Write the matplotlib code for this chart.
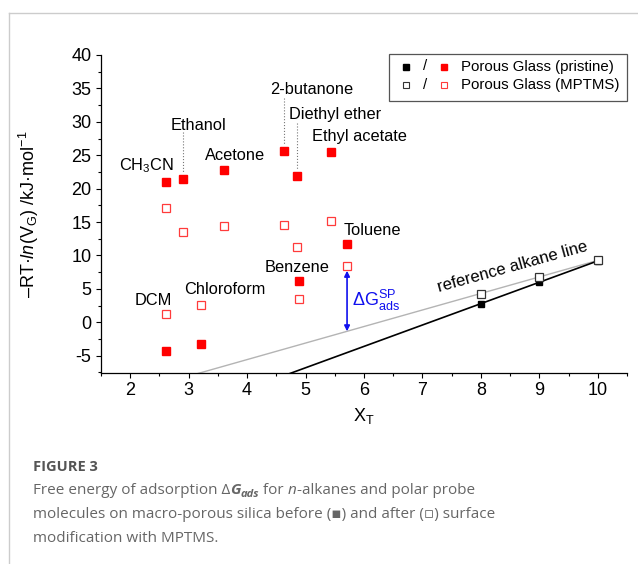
import matplotlib
matplotlib.use("Agg")
import matplotlib.pyplot as plt
import numpy as np
from matplotlib.lines import Line2D
from matplotlib.text import Annotation

plt.rcParams['font.family'] = ['Liberation Sans', 'DejaVu Sans']
plt.rcParams['mathtext.fontset'] = 'custom'
plt.rcParams['mathtext.rm'] = 'Liberation Sans'
plt.rcParams['mathtext.it'] = 'Liberation Sans:italic'
plt.rcParams['mathtext.bf'] = 'Liberation Sans:bold'
plt.rcParams['mathtext.default'] = 'regular'
plt.rcParams['axes.unicode_minus'] = False

# polar probes: topological index X_T and -RT ln(V_G) in kJ/mol
probes = ['CH$_3$CN', 'Ethanol', 'Acetone', '2-butanone', 'Diethyl ether',
          'Ethyl acetate', 'Toluene', 'Benzene', 'DCM', 'Chloroform']
probe_xt = [2.61, 2.91, 3.61, 4.63, 4.85, 5.44, 5.71, 4.88, 2.61, 3.21]
probe_pristine = [21.0, 21.4, 22.75, 25.7, 21.95, 25.55, 11.65, 6.15, -4.25, -3.2]
probe_mptms = [17.1, 13.55, 14.35, 14.5, 11.3, 15.15, 8.4, 3.55, 1.2, 2.65]

# n-alkanes (octane, nonane, decane)
alkane_xt = [8, 9, 10]
alkane_pristine = [2.8, 5.95, 9.2]
alkane_mptms = [4.3, 6.8, 9.25]

W, H = 638, 564
fig = plt.figure(figsize=(W / 100, H / 100), dpi=100)


def fx(x):
    return x / W


def fy(y):
    return 1 - y / H


ax = fig.add_axes([fx(101), fy(373), fx(627) - fx(101), fy(55) - fy(373)])
ax.set_xlim(1.5, 10.5)
ax.set_ylim(-7.6, 40)
ax.spines['top'].set_visible(False)
ax.spines['right'].set_visible(False)
for s in ['left', 'bottom']:
    ax.spines[s].set_linewidth(0.9)
ax.set_xticks(range(2, 11))
ax.set_xticks(np.arange(1.5, 10.6, 0.5), minor=True)
ax.set_yticks(range(-5, 41, 5))
ax.set_yticks(np.arange(-7.5, 40.1, 2.5), minor=True)
ax.tick_params(which='major', length=3.8, width=0.8, labelsize=13, pad=3)
ax.tick_params(which='minor', length=2, width=0.8)

# reference alkane lines (linear fits)
xl = np.linspace(2, 10, 50)
p_pr = np.polyfit(alkane_xt, alkane_pristine, 1)
p_mp = np.polyfit(alkane_xt, alkane_mptms, 1)
ax.plot(xl, np.polyval(p_mp, xl), color='#b4b4b4', lw=1.0, zorder=2)
ax.plot(xl, np.polyval(p_pr, xl), color='black', lw=1.2, zorder=2)

ax.plot(alkane_xt, alkane_pristine, 's', color='black', ms=5, zorder=3)
ax.plot(alkane_xt, alkane_mptms, 's', mfc='white', mec='#333333', mew=0.9, ms=5.2, zorder=4)
ax.plot(probe_xt, probe_pristine, 's', color='#ff0000', ms=5.2, zorder=3)
ax.plot(probe_xt, probe_mptms, 's', mfc='white', mec='#ff3b3b', mew=0.9, ms=5.2, zorder=3)

# probe labels
label_pos = {
    'CH$_3$CN': (2.27, 23.4), 'Ethanol': (3.16, 29.4), 'Acetone': (3.79, 25.0),
    '2-butanone': (5.1, 34.9), 'Diethyl ether': (5.51, 31.1),
    'Ethyl acetate': (5.93, 27.8), 'Toluene': (6.14, 13.7),
    'Benzene': (4.86, 8.2), 'Chloroform': (3.61, 4.84), 'DCM': (2.4, 3.24),
}
for name in probes:
    x, y = label_pos[name]
    ax.text(x, y, name, fontsize=11.8, ha='center', va='center')

leaders = {'Ethanol': (28.4, 22.3), '2-butanone': (33.6, 26.7), 'Diethyl ether': (29.8, 22.9)}
for name, (y0, y1) in leaders.items():
    i = probes.index(name)
    ax.plot([probe_xt[i], probe_xt[i]], [y0, y1], ls=':', color='#777777', lw=0.8)

# specific free energy arrow for toluene
it = probes.index('Toluene')
xt_tol = probe_xt[it]
ax.annotate('', xy=(xt_tol, np.polyval(p_mp, xt_tol)), xytext=(xt_tol, probe_mptms[it] - 0.7),
            arrowprops=dict(arrowstyle='<|-|>', color='#1010ee', lw=1.2,
                            shrinkA=0, shrinkB=0, mutation_scale=8))
ax.text(xt_tol + 0.08, 3.2, r'$\Delta G^{SP}_{ads}$', color='#1010ee', fontsize=13,
        ha='left', va='center')

ax.text(8.54, 8.34, 'reference alkane line', fontsize=12, rotation=15.5,
        rotation_mode='anchor', ha='center', va='center')

ax.set_xlabel('X$_T$', fontsize=13)
ax.xaxis.set_label_coords(0.5, -0.105)
ax.set_ylabel(r'–RT·$\mathit{ln}$(V$_G$) /kJ·mol$^{-1}$', fontsize=13)
ax.yaxis.set_label_coords(-0.115, 0.5)

# legend drawn by hand: "■ / ■ Porous Glass (...)"
fig.patches.append(plt.Rectangle((fx(389), fy(101)), fx(627) - fx(389), fy(54) - fy(101),
                                 transform=fig.transFigure, fill=False, ec='#555555', lw=0.9))
rows = [(66.5, dict(color='black'), dict(color='#ff0000'), 'Porous Glass (pristine)'),
        (85.0, dict(mfc='white', mec='#333333', mew=0.8), dict(mfc='white', mec='#ff3b3b', mew=0.8),
         'Porous Glass (MPTMS)')]
for yy, st1, st2, lab in rows:
    fig.add_artist(Line2D([fx(406)], [fy(yy)], marker='s', ms=4.5, ls='none', **st1))
    fig.add_artist(Line2D([fx(444)], [fy(yy)], marker='s', ms=4.5, ls='none', **st2))
    fig.text(fx(425), fy(yy), '/', fontsize=10.8, ha='center', va='center')
    fig.text(fx(461), fy(yy), lab, fontsize=10.8, ha='left', va='center')

# page frame
fig.add_artist(Line2D([fx(9), fx(9)], [0, fy(13)], color='#cccccc', lw=1))
fig.add_artist(Line2D([fx(9), 1], [fy(13), fy(13)], color='#cccccc', lw=1))

# caption
cap_font = ['Open Sans', 'DejaVu Sans']
gray = '#666666'
fig.text(fx(33), fy(471), 'FIGURE 3', fontsize=10.5, fontweight='bold', color='#555555',
         family=cap_font, va='baseline')


def chain(prev, s, y, fontsize=11, **kw):
    # place text right after the previous piece, on a given baseline
    a = Annotation(s, xy=(1, fy(y)), xycoords=(prev, 'figure fraction'), color=gray,
                   va='baseline', ha='left', family=cap_font, fontsize=fontsize, **kw)
    fig.add_artist(a)
    return a


t = fig.text(fx(33), fy(494), 'Free energy of adsorption Δ', color=gray, family=cap_font,
             fontsize=11, va='baseline')
t = chain(t, 'G', 494, fontweight='bold', fontstyle='italic')
t = chain(t, 'ads', 497, fontsize=8, fontweight='bold', fontstyle='italic')
t = chain(t, ' for ', 494)
t = chain(t, 'n', 494, fontstyle='italic')
t = chain(t, '-alkanes and polar probe', 494)
fig.text(fx(33), fy(518), 'molecules on macro-porous silica before (▪) and after (▫) surface',
         color=gray, family=cap_font, fontsize=11, va='baseline')
fig.text(fx(33), fy(541.5), 'modification with MPTMS.', color=gray, family=cap_font,
         fontsize=11, va='baseline')

fig.savefig('out.png', dpi=100)
